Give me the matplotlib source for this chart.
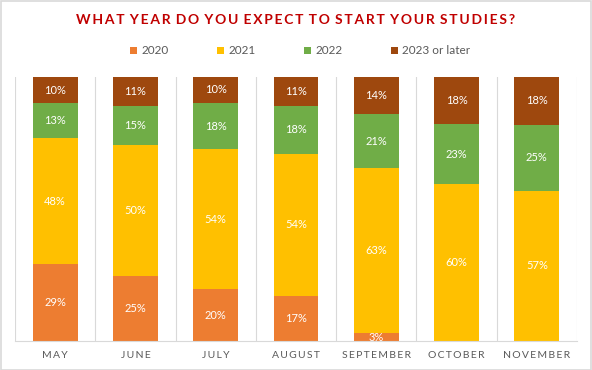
import numpy as np
import matplotlib.pyplot as plt
from matplotlib.patches import Rectangle

months = ["MAY", "JUNE", "JULY", "AUGUST", "SEPTEMBER", "OCTOBER", "NOVEMBER"]
y2020 = [29, 25, 20, 17, 3, 0, 0]
y2021 = [48, 50, 54, 54, 63, 60, 57]
y2022 = [13, 15, 18, 18, 21, 23, 25]
y2023 = [10, 11, 10, 11, 14, 18, 18]

series = [("2020", y2020, "#ED7D31"),
          ("2021", y2021, "#FFC000"),
          ("2022", y2022, "#70AD47"),
          ("2023 or later", y2023, "#9E480E")]

font = ["Lato", "DejaVu Sans"]
plt.rcParams['font.family'] = font

fig = plt.figure(figsize=(5.92, 3.70), dpi=100)
ax = fig.add_axes([15/592, 1-341/370, 562/592, (341-77)/370])

x = np.arange(len(months))
totals = np.sum([s[1] for s in series], axis=0)
bottom = np.zeros(len(months))
for name, vals, col in series:
    share = np.array(vals) / totals
    ax.bar(x, share, 0.56, bottom=bottom, color=col, label=name, zorder=2)
    for xi, b, h, v in zip(x, bottom, share, vals):
        if v > 0:
            ax.text(xi, b + h/2, f"{v}%", ha="center", va="center",
                    color="white", fontsize=8)
    bottom += share

ax.set_xlim(-0.5, len(months) - 0.5)
ax.set_ylim(0, 1)
for gx in np.arange(-0.5, len(months), 1.0):
    ax.axvline(gx, color="#D9D9D9", lw=0.8, zorder=1)
for s in ["top", "left", "right"]:
    ax.spines[s].set_visible(False)
ax.spines["bottom"].set_color("#D9D9D9")
ax.set_yticks([])
ax.set_xticks(x)
ax.set_xticklabels(["\u2009".join(m) for m in months], color="#595959", fontsize=7.5)
ax.tick_params(axis="x", length=0, pad=7)

title = "WHAT YEAR DO YOU EXPECT TO START YOUR STUDIES?"
spaced = " \u2009".join("\u2009".join(w) for w in title.split(" "))
fig.text(0.5, 1-20/370, spaced, ha="center", va="center", color="#C00000",
         fontsize=10, fontweight="bold")

fig.legend(loc="center", bbox_to_anchor=(0.5 + 4/592, 1-51/370), ncol=4, frameon=False,
           fontsize=8.5, labelcolor="#595959", handlelength=0.6, handleheight=0.6,
           handletextpad=0.35, columnspacing=4.1)

fig.add_artist(Rectangle((0.001, 0.001), 0.997, 0.996, transform=fig.transFigure,
                         fill=False, edgecolor="#D9D9D9", lw=1.2))

fig.savefig("out.png", dpi=100)
